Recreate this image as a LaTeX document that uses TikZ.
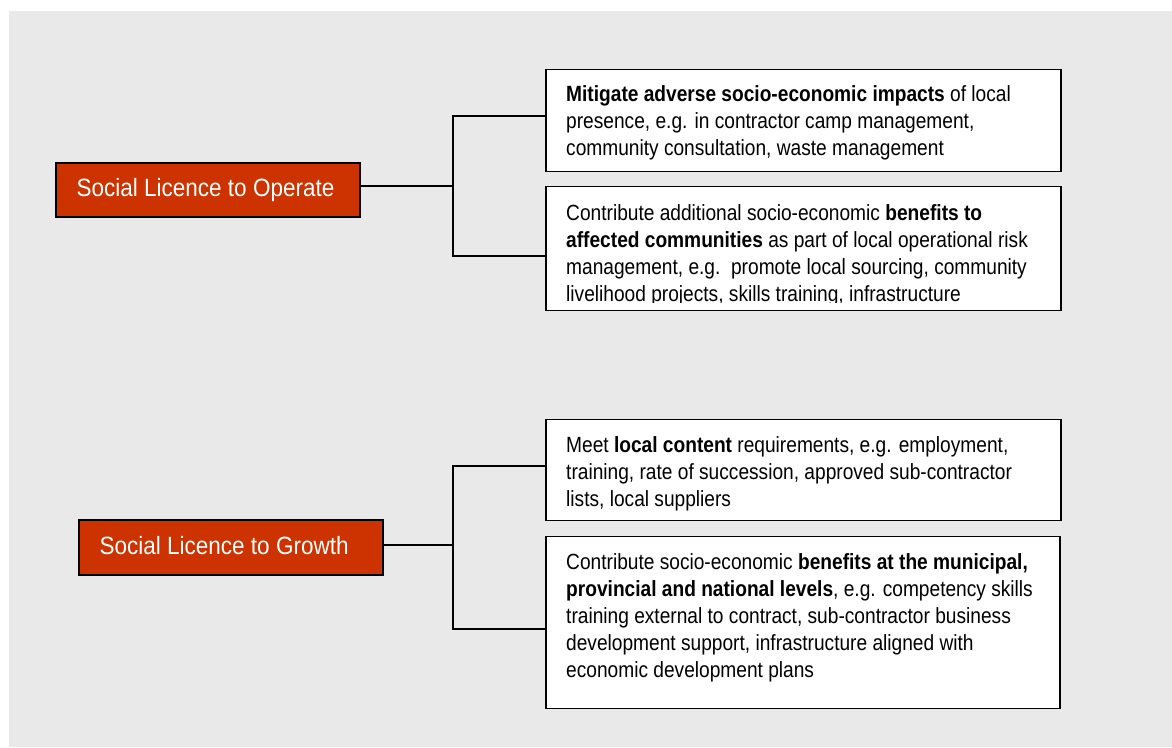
\documentclass[tikz,border=0pt]{standalone}
\usepackage{fontspec}
\setmainfont{Liberation Sans}[FakeStretch=0.87]
\newfontfamily\labelfont{Liberation Sans}[FakeStretch=0.9]
\definecolor{bggray}{HTML}{E9E9E9}
\definecolor{licred}{HTML}{CC3300}
\begin{document}
\begin{tikzpicture}[x=1pt,y=-1pt,
  licbox/.style={draw=black, line width=1.4pt, fill=licred, minimum width=304pt, minimum height=54pt, inner sep=0pt},
  licname/.style={text=white, inner sep=0pt, font=\labelfont\fontsize{25}{30}\selectfont, anchor=base west},
  infobox/.style={draw=black, line width=1.4pt, fill=white, minimum width=515pt, inner sep=0pt},
  infotext/.style={inner sep=0pt, align=left, anchor=base west, font=\fontsize{22}{27}\selectfont},
  link/.style={draw=black, line width=1.3pt}]
\useasboundingbox (0,0) rectangle (1172,747);
\fill[bggray] (9,11) rectangle (1172,747);

% left boxes
\node[licbox] (op) at (208,190) {};
\node[licname] (opt) at (76.5,196.5) {Social Licence to Operate};
\node[licbox, minimum height=55pt] (gr) at (231,547.5) {};
\node[licname] (grt) at (99.5,554) {Social Licence to Growth};

% right boxes
\node[infobox, minimum height=102pt] (r1) at (803.5,120.5) {};
\node[infobox, minimum height=124pt] (r2) at (803.5,248.5) {};
\node[infobox, minimum height=101pt] (r3) at (803.5,470) {};
\node[infobox, minimum width=514pt, minimum height=172pt] (r4) at (803,622.5) {};

% texts (anchored at the baseline of their last line)
\node[infotext] (t1) at (566,155) {\textbf{Mitigate adverse socio-economic impacts} of local\\presence, e.g. in contractor camp management,\\community consultation, waste management};
\begin{scope}
\clip (546,186) rectangle (1061,302.5);
\node[infotext] (t2) at (566,301) {Contribute additional socio-economic \textbf{benefits to}\\\textbf{affected communities} as part of local operational risk\\management, e.g.\ \ promote local sourcing, community\\livelihood projects, skills training, infrastructure};
\end{scope}
\node[infotext] (t3) at (566,506.5) {Meet \textbf{local content} requirements, e.g. employment,\\training, rate of succession, approved sub-contractor\\lists, local suppliers};
\node[infotext] (t4) at (566,677) {Contribute socio-economic \textbf{benefits at the municipal,}\\\textbf{provincial and national levels}, e.g. competency skills\\training external to contract, sub-contractor business\\development support, infrastructure aligned with\\economic development plans};

% connectors
\coordinate (j1) at (453,186);
\coordinate (j2) at (453,545);
\draw[link] (op.east |- j1) -- (j1);
\draw[link] (r1.west |- 0,116) -| (j1) |- (r2.west |- 0,256);
\draw[link] (gr.east |- j2) -- (j2);
\draw[link] (r3.west |- 0,466) -| (j2) |- (r4.west |- 0,629);
\end{tikzpicture}
\end{document}
